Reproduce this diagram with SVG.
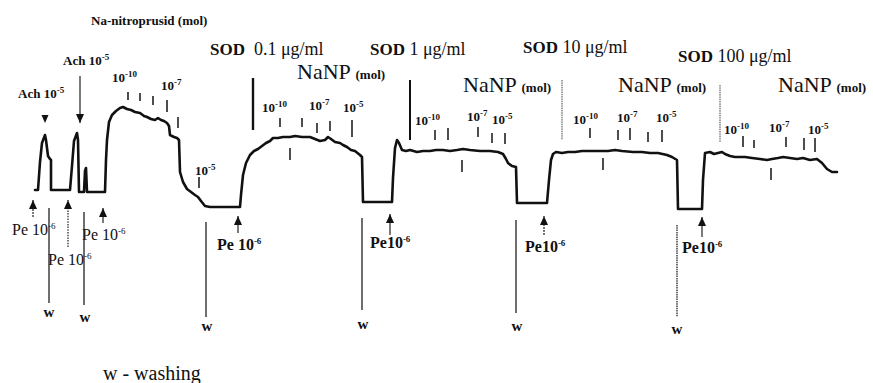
<svg xmlns="http://www.w3.org/2000/svg" width="873" height="383" viewBox="0 0 873 383">
<defs>
<style>
text{font-family:"Liberation Serif","Times New Roman",serif;fill:#111}
.b{font-weight:bold}
.num{font-size:13px;font-weight:bold}
.sup{font-size:9px}
.sod{font-size:18px}
.sodb{font-size:17px;font-weight:bold}
.nanp{font-size:22px}
.mol{font-size:13px;font-weight:bold}
.pe{font-size:16px}
.w{font-size:15px;font-weight:bold}
.tick{stroke:#222;stroke-width:1.6;fill:none}
.wl{stroke:#222;stroke-width:1.3;fill:none}
.arr{stroke:#333;stroke-width:1.3;fill:none;marker-end:url(#ah)}
.trace{stroke:#111;stroke-width:2.6;fill:none;stroke-linejoin:round;stroke-linecap:round}
</style>
<marker id="ah" markerUnits="userSpaceOnUse" markerWidth="9" markerHeight="8" refX="9" refY="4" orient="auto">
<path d="M0,0 L9,4 L0,8 z" fill="#111"/>
</marker>
</defs>
<rect width="873" height="383" fill="#fff"/>

<g id="titles">
<text x="91" y="25" class="b" font-size="13">Na-nitroprusid (mol)</text>
<text x="210" y="55" class="sod"><tspan class="sodb">SOD</tspan><tspan dx="9">0.1 μg/ml</tspan></text>
<text x="370" y="55" class="sod"><tspan class="sodb">SOD</tspan> 1 μg/ml</text>
<text x="523" y="53" class="sod"><tspan class="sodb">SOD</tspan> 10 μg/ml</text>
<text x="678" y="62" class="sod"><tspan class="sodb">SOD</tspan> 100 μg/ml</text>
<text x="297" y="79" class="nanp">NaNP <tspan class="mol">(mol)</tspan></text>
<text x="463" y="92" class="nanp">NaNP <tspan class="mol">(mol)</tspan></text>
<text x="618" y="92" class="nanp">NaNP <tspan class="mol">(mol)</tspan></text>
<text x="778" y="92" class="nanp">NaNP <tspan class="mol">(mol)</tspan></text>
</g>

<g id="ach">
<text x="63" y="65" class="b" font-size="13">Ach 10<tspan class="sup" dy="-5">-5</tspan></text>
<text x="18" y="98" class="b" font-size="13">Ach 10<tspan class="sup" dy="-5">-5</tspan></text>
<line x1="80" y1="76" x2="80" y2="123" class="arr"/>
<path d="M41.5,115 L48.5,115 L45,123 z" fill="#111"/>
</g>

<g id="dividers">
<line x1="253" y1="78" x2="253" y2="130" stroke="#111" stroke-width="2.4"/>
<line x1="410" y1="80" x2="410" y2="140" stroke="#111" stroke-width="2"/>
<line x1="562" y1="80" x2="562" y2="140" stroke="#444" stroke-width="1" stroke-dasharray="1.5 0.8"/>
<line x1="720" y1="85" x2="720" y2="142" stroke="#444" stroke-width="1" stroke-dasharray="1.5 0.8"/>
</g>

<g id="doses">
<text x="112" y="82" class="num">10<tspan class="sup" dy="-5">-10</tspan></text>
<text x="161" y="90" class="num">10<tspan class="sup" dy="-5">-7</tspan></text>
<text x="195" y="175" class="num">10<tspan class="sup" dy="-5">-5</tspan></text>
<text x="262" y="112" class="num">10<tspan class="sup" dy="-5">-10</tspan></text>
<text x="309" y="110" class="num">10<tspan class="sup" dy="-5">-7</tspan></text>
<text x="343" y="112" class="num">10<tspan class="sup" dy="-5">-5</tspan></text>
<text x="415" y="125" class="num">10<tspan class="sup" dy="-5">-10</tspan></text>
<text x="467" y="121" class="num">10<tspan class="sup" dy="-5">-7</tspan></text>
<text x="492" y="124" class="num">10<tspan class="sup" dy="-5">-5</tspan></text>
<text x="573" y="124" class="num">10<tspan class="sup" dy="-5">-10</tspan></text>
<text x="617" y="122" class="num">10<tspan class="sup" dy="-5">-7</tspan></text>
<text x="656" y="122" class="num">10<tspan class="sup" dy="-5">-5</tspan></text>
<text x="724" y="134" class="num">10<tspan class="sup" dy="-5">-10</tspan></text>
<text x="769" y="132" class="num">10<tspan class="sup" dy="-5">-7</tspan></text>
<text x="808" y="134" class="num">10<tspan class="sup" dy="-5">-5</tspan></text>
<path class="tick" d="M128,92V100 M140,93V101 M153,96V105 M167,100V112 M178,117V128 M199,177V188
M280,118V127 M302,118V127 M317,123V133 M330,121V131 M352,120V137 M290,148V160
M435,130V140 M448,128V140 M478,127V137 M492,133V143 M505,133V144 M462,160V172
M590,128V138 M618,130V140 M630,128V140 M648,132V142 M662,130V142 M603,158V170
M743,136V147 M754,140V148 M786,137V147 M804,138V150 M815,138V152 M771,168V180"/>
</g>

<g id="trace">
<path class="trace" d="M35,190 L38,190 L40,162 L42,143 L45,135 L46,140 L48,156 L50,159 L51,160 L51,190 L70,190 L72,166 L74,141 L77,133 L78,140 L79,192 L84,192 L85,171 L86,168 L87,192 L105,192 L106,160 L107,140 L109,122 L112,115 L116,111 L120,108 L123,107 L127,109 L131,110 L135,112 L140,113 L144,116 L147,117 L151,119 L155,120 L158,118 L161,120 L164,121 L167,123 L169,126 L170,135 L174,137 L177,138 L179,140 L180,172 L183,182 L187,189 L191,192 L195,195 L198,197 L201,201 L205,206 L210,207 L240,207 L241,195 L243,175 L246,163 L250,155 L254,151 L258,149 L262,146 L266,143 L270,141 L273,138 L278,138 L283,137 L290,137 L295,136 L302,137 L310,137 L315,139 L320,141 L325,140 L328,137 L331,139 L335,142 L340,143 L343,145 L347,147 L351,150 L355,151 L360,155 L362,157 L363,202 L392,202 L393,178 L395,148 L397,140 L399,143 L402,150 L406,151 L410,150 L417,152 L423,151 L430,151 L436,150 L443,150 L450,151 L457,150 L463,149 L470,150 L480,151 L490,151 L498,152 L503,154 L506,159 L508,163 L512,166 L516,167 L517,203 L547,203 L549,180 L551,160 L553,154 L556,152 L562,153 L568,152 L575,152 L582,151 L590,151 L600,151 L608,151 L615,150 L622,151 L633,152 L642,152 L650,153 L658,153 L667,155 L672,157 L677,160 L678,209 L702,209 L703,180 L705,153 L710,152 L714,154 L718,153 L722,152 L725,154 L730,156 L735,157 L745,157 L752,158 L760,159 L767,160 L772,159 L778,158 L783,157 L790,158 L797,159 L803,158 L810,160 L817,159 L822,163 L827,169 L832,172 L837,172"/>
</g>

<g id="pe-arrows">
<line x1="33" y1="217" x2="33" y2="200" class="arr" stroke-dasharray="2 1"/>
<line x1="68" y1="247" x2="68" y2="200" class="arr" stroke-dasharray="1.5 1.2"/>
<line x1="103" y1="223" x2="103" y2="208" class="arr"/>
<line x1="238" y1="233" x2="238" y2="216" class="arr"/>
<line x1="390" y1="235" x2="390" y2="214" class="arr"/>
<line x1="544" y1="235" x2="544" y2="216" class="arr" stroke-dasharray="2 1"/>
<line x1="702" y1="237" x2="702" y2="217" class="arr"/>
<text x="12" y="235" class="pe">Pe 10<tspan class="sup" font-size="9" dy="-6">-6</tspan></text>
<text x="48" y="265" class="pe">Pe 10<tspan class="sup" font-size="9" dy="-6">-6</tspan></text>
<text x="82" y="240" class="pe">Pe 10<tspan class="sup" font-size="9" dy="-6">-6</tspan></text>
<text x="217" y="250" class="pe b">Pe 10<tspan class="sup" font-size="9" dy="-6">-6</tspan></text>
<text x="370" y="248" class="pe b">Pe10<tspan class="sup" font-size="9" dy="-6">-6</tspan></text>
<text x="525" y="252" class="pe b">Pe10<tspan class="sup" font-size="9" dy="-6">-6</tspan></text>
<text x="682" y="253" class="pe b">Pe10<tspan class="sup" font-size="9" dy="-6">-6</tspan></text>
</g>

<g id="washing">
<path class="wl" d="M49,208V303 M84,212V305 M206,222V317 M362,218V310 M516,220V313"/>
<path class="wl" d="M677,225V317" stroke-dasharray="1.5 0.8"/>
<text x="49" y="317" class="w" text-anchor="middle">w</text>
<text x="85" y="322" class="w" text-anchor="middle">w</text>
<text x="207" y="331" class="w" text-anchor="middle">w</text>
<text x="363" y="329" class="w" text-anchor="middle">w</text>
<text x="517" y="331" class="w" text-anchor="middle">w</text>
<text x="677" y="334" class="w" text-anchor="middle">w</text>
<text x="103" y="380" font-size="20">w - washing</text>
</g>
</svg>
